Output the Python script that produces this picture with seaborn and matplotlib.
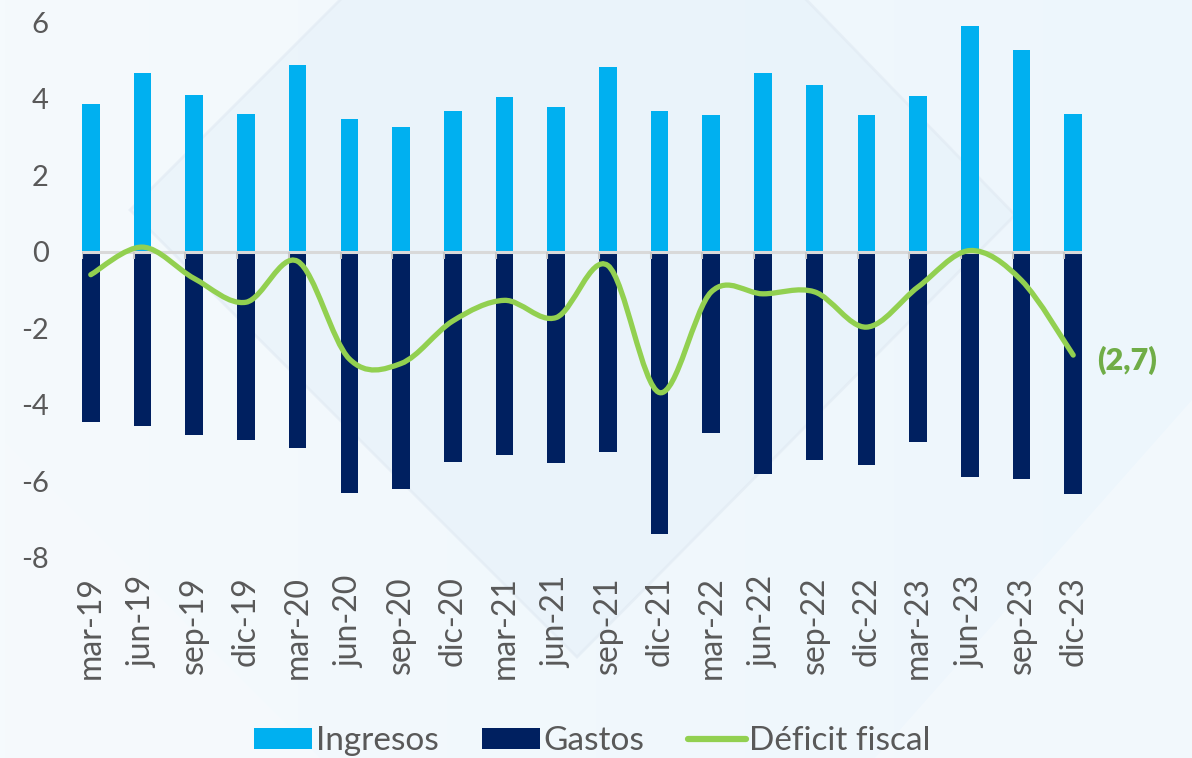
import numpy as np
import pandas as pd
import matplotlib
matplotlib.use('Agg')
import matplotlib.pyplot as plt
import seaborn as sns
from matplotlib.path import Path
from matplotlib.patches import PathPatch, Patch, Polygon
from matplotlib.lines import Line2D

# Chart values (% del PIB)
periodos = ['mar-19', 'jun-19', 'sep-19', 'dic-19',
            'mar-20', 'jun-20', 'sep-20', 'dic-20',
            'mar-21', 'jun-21', 'sep-21', 'dic-21',
            'mar-22', 'jun-22', 'sep-22', 'dic-22',
            'mar-23', 'jun-23', 'sep-23', 'dic-23']
ingresos = [3.86, 4.67, 4.10, 3.60, 4.88, 3.47, 3.26, 3.68, 4.05, 3.79,
            4.83, 3.67, 3.58, 4.68, 4.36, 3.58, 4.07, 5.90, 5.27, 3.60]
gastos = [-4.46, -4.55, -4.79, -4.92, -5.13, -6.30, -6.21, -5.49, -5.32, -5.52,
          -5.22, -7.38, -4.74, -5.80, -5.43, -5.56, -4.97, -5.88, -5.94, -6.33]
deficit = [-0.60, 0.12, -0.70, -1.32, -0.25, -2.80, -2.92, -1.81, -1.27, -1.72,
           -0.36, -3.68, -1.05, -1.10, -1.05, -1.97, -0.92, 0.03, -0.75, -2.70]
etiqueta_final = '(2,7)'

C_ING = '#00b0f0'
C_GAS = '#002060'
C_DEF = '#92d050'
C_LAB = '#70ad47'
C_TXT = '#595959'
BAR_W = 0.34


def smooth_path(xs, ys):
    # Excel-like smoothed line: cubic bezier segments with Catmull-Rom control points
    pts = np.column_stack([xs, ys])
    n = len(pts)
    verts = [pts[0]]
    codes = [Path.MOVETO]
    for i in range(n - 1):
        p0 = pts[max(i - 1, 0)]
        p1 = pts[i]
        p2 = pts[i + 1]
        p3 = pts[min(i + 2, n - 1)]
        c1 = p1 + (p2 - p0) / 6.0
        c2 = p2 - (p3 - p1) / 6.0
        verts += [c1, c2, p2]
        codes += [Path.CURVE4] * 3
    return Path(verts, codes)


def draw_background(fig):
    bg = fig.add_axes([0, 0, 1, 1], zorder=-10)
    bg.set_xlim(0, 1192)
    bg.set_ylim(758, 0)
    bg.axis('off')
    grad = np.linspace(0, 1, 256)[None, :]
    cmap = matplotlib.colors.LinearSegmentedColormap.from_list('bg', ['#f5fafd', '#edf6fc'])
    bg.imshow(grad, extent=[0, 1192, 758, 0], aspect='auto', cmap=cmap)
    # decorative diamonds
    bg.add_patch(Polygon([[130, 210], [577, -237], [1015, 215], [577, 657]],
                         closed=True, facecolor='#e6f1fa', edgecolor='#e0e9f2', lw=2, alpha=0.6))
    bg.add_patch(Polygon([[0, 437], [320, 758], [0, 758]],
                         closed=True, facecolor='#f6fafd', edgecolor='none', alpha=0.8))
    bg.add_patch(Polygon([[1192, 400], [875, 758], [1192, 758]],
                         closed=True, facecolor='#f6fafd', edgecolor='none', alpha=0.6))


sns.set_theme(style='white')
plt.rcParams['font.family'] = ['Lato', 'DejaVu Sans']
plt.rcParams['axes.unicode_minus'] = False

df = pd.DataFrame({'periodo': periodos, 'ingresos': ingresos, 'gastos': gastos, 'deficit': deficit})

fig = plt.figure(figsize=(11.92, 7.58), dpi=100)
fig.patch.set_facecolor('#f2f8fd')
draw_background(fig)

ax = fig.add_axes([82 / 1192, 200 / 758, 1000 / 1192, 536 / 758])
ax.patch.set_alpha(0)

sns.barplot(data=df, x='periodo', y='ingresos', color=C_ING, saturation=1,
            width=BAR_W, linewidth=0, ax=ax, zorder=2)
sns.barplot(data=df, x='periodo', y='gastos', color=C_GAS, saturation=1,
            width=BAR_W, linewidth=0, ax=ax, zorder=2)

xpos = np.arange(len(periodos))

# horizontal axis line at zero with small tick marks
ax.axhline(0, color='#d9d9d9', lw=2.2, zorder=3)
ax.vlines(xpos - BAR_W / 2, -0.2, 0, color='#c8c8c8', lw=1.5, zorder=3)

# smoothed deficit line
ax.add_patch(PathPatch(smooth_path(xpos, df['deficit'].values), facecolor='none',
                       edgecolor=C_DEF, lw=3.8, capstyle='round', zorder=4))
ax.annotate(etiqueta_final, xy=(xpos[-1], deficit[-1]), xytext=(17, -4),
            textcoords='offset points', ha='left', va='center',
            fontsize=22, fontweight='heavy', color=C_LAB)

ax.set_xlim(-BAR_W / 2, len(periodos) - 1 + BAR_W / 2)
ax.set_ylim(-8, 6)
ax.set_yticks(np.arange(-8, 7, 2))
ax.set_xticks(xpos)
ax.set_xticklabels(periodos, rotation=90, fontsize=23, color=C_TXT)
ax.tick_params(axis='x', length=0, pad=13)
ax.tick_params(axis='y', length=0, pad=24, labelsize=21, labelcolor=C_TXT)
ax.set_xlabel('')
ax.set_ylabel('')
sns.despine(ax=ax, left=True, bottom=True)

handles = [Patch(facecolor=C_ING, edgecolor='none', label='Ingresos'),
           Patch(facecolor=C_GAS, edgecolor='none', label='Gastos'),
           Line2D([0], [0], color=C_DEF, lw=4.5, solid_capstyle='round', label='Déficit fiscal')]
leg = fig.legend(handles=handles, loc='center', bbox_to_anchor=(0.497, 0.022), ncol=3,
                 frameon=False, fontsize=24, handlelength=1.75, handleheight=0.55,
                 handletextpad=0.1, columnspacing=1.3)
for t in leg.get_texts():
    t.set_color(C_TXT)

fig.savefig('out.png', dpi=100, facecolor=fig.get_facecolor())
